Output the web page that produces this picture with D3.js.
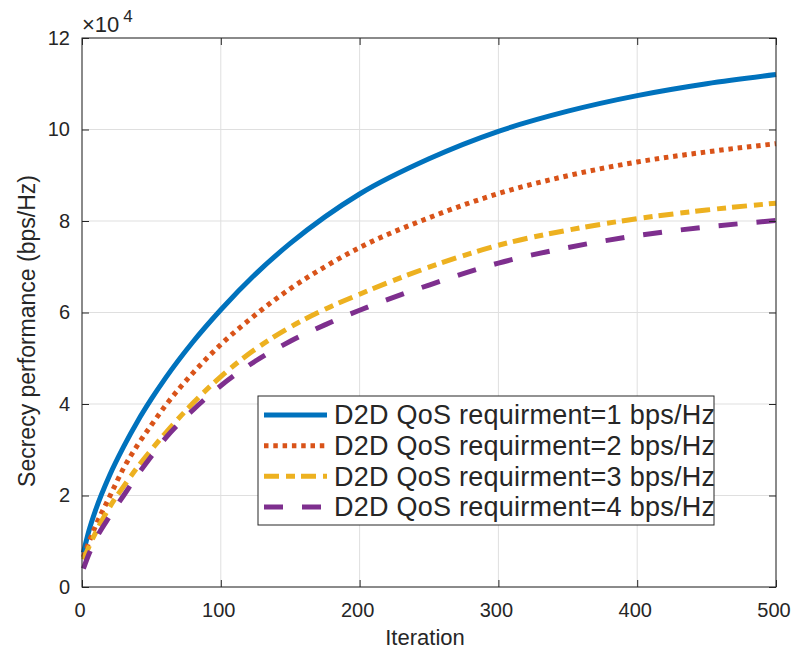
<!DOCTYPE html>
<html>
<head>
<meta charset="utf-8">
<script src="https://cdn.jsdelivr.net/npm/d3@7"></script>
<style>
  body { margin: 0; background: #fff; }
  svg text { font-family: "Liberation Sans", Arial, Helvetica, sans-serif; fill: #262626; }
</style>
</head>
<body>
<div id="chart"></div>
<script>
const iterations = [1, 5, 10, 20, 30, 40, 50, 60, 80, 100, 125, 150, 175, 200, 250, 300, 350, 400, 450, 500];

// secrecy performance, in units of 1e4
const qos1 = [0.75, 1.23, 1.7, 2.45, 3.07, 3.62, 4.11, 4.56, 5.36, 6.06, 6.84, 7.51, 8.09, 8.59, 9.36, 9.96, 10.4, 10.74, 11.0, 11.2];
const qos2 = [0.65, 0.98, 1.35, 1.98, 2.6, 3.1, 3.54, 3.96, 4.68, 5.3, 5.95, 6.52, 7.0, 7.42, 8.07, 8.6, 8.99, 9.29, 9.51, 9.69];
const qos3 = [0.6, 0.88, 1.2, 1.75, 2.2, 2.62, 3.0, 3.36, 4.02, 4.6, 5.2, 5.68, 6.07, 6.4, 6.99, 7.47, 7.8, 8.05, 8.24, 8.39];
const qos4 = [0.4, 0.72, 1.05, 1.55, 2.0, 2.45, 2.86, 3.25, 3.87, 4.4, 4.94, 5.37, 5.73, 6.05, 6.6, 7.08, 7.42, 7.68, 7.87, 8.01];

const labels = [
  "D2D QoS requirment=1 bps/Hz",
  "D2D QoS requirment=2 bps/Hz",
  "D2D QoS requirment=3 bps/Hz",
  "D2D QoS requirment=4 bps/Hz"
];
const xTicks = [0, 100, 200, 300, 400, 500];
const yTicks = [0, 2, 4, 6, 8, 10, 12];

const series = [
  { name: labels[0], values: qos1, color: "#0072bd", dash: null },
  { name: labels[1], values: qos2, color: "#d95319", dash: "4.5,4.8" },
  { name: labels[2], values: qos3, color: "#edb120", dash: "15,7,9,6" },
  { name: labels[3], values: qos4, color: "#7e2f8e", dash: "19,19" }
];

const W = 791, H = 654;
const margin = { top: 38, right: 15, bottom: 67, left: 82 };
const width = W - margin.left - margin.right,
      height = H - margin.top - margin.bottom;

const svg = d3.select("#chart").append("svg")
  .attr("width", W).attr("height", H);

const g = svg.append("g")
  .attr("transform", `translate(${margin.left},${margin.top})`);

const x = d3.scaleLinear().domain([0, 500]).range([0, width]);
const y = d3.scaleLinear().domain([0, 12]).range([height, 0]);

// grid
g.append("g").selectAll("line.gx")
  .data(xTicks).enter().append("line")
  .attr("x1", d => x(d)).attr("x2", d => x(d))
  .attr("y1", 0).attr("y2", height)
  .attr("stroke", "#dfdfdf").attr("stroke-width", 1);
g.append("g").selectAll("line.gy")
  .data(yTicks).enter().append("line")
  .attr("y1", d => y(d)).attr("y2", d => y(d))
  .attr("x1", 0).attr("x2", width)
  .attr("stroke", "#dfdfdf").attr("stroke-width", 1);

// lines
const line = d3.line()
  .x((d, i) => x(iterations[i]))
  .y(d => y(d))
  .curve(d3.curveMonotoneX);

series.forEach(s => {
  g.append("path")
    .datum(s.values)
    .attr("d", line)
    .attr("fill", "none")
    .attr("stroke", s.color)
    .attr("stroke-width", 5)
    .attr("stroke-dasharray", s.dash);
});

// axes (inward ticks, box)
const tickLen = 7;
const axisStyle = sel => {
  sel.select(".domain").remove();
  sel.selectAll(".tick line").attr("stroke", "#262626");
  sel.selectAll(".tick text").style("font-size", "20px").attr("fill", "#262626");
};

g.append("g")
  .attr("transform", `translate(0,${height})`)
  .call(d3.axisBottom(x).tickValues(xTicks).tickSizeInner(-tickLen).tickSizeOuter(0).tickPadding(16))
  .call(axisStyle)
  .selectAll(".tick text").attr("dx", -2.5);
g.append("g")
  .call(d3.axisTop(x).tickValues(xTicks).tickSizeInner(-tickLen).tickSizeOuter(0).tickFormat(""))
  .call(axisStyle);
g.append("g")
  .call(d3.axisLeft(y).tickValues(yTicks).tickSizeInner(-tickLen).tickSizeOuter(0).tickPadding(12))
  .call(axisStyle);
g.append("g")
  .attr("transform", `translate(${width},0)`)
  .call(d3.axisRight(y).tickValues(yTicks).tickSizeInner(-tickLen).tickSizeOuter(0).tickFormat(""))
  .call(axisStyle);

g.append("rect")
  .attr("x", 0).attr("y", 0).attr("width", width).attr("height", height)
  .attr("fill", "none").attr("stroke", "#262626").attr("stroke-width", 1);

// exponent label
const expo = svg.append("text")
  .attr("x", 82).attr("y", 32)
  .style("font-size", "22px");
expo.append("tspan").text("×10");
expo.append("tspan").attr("dx", 4).attr("dy", -10).style("font-size", "17px").text("4");

// axis labels
svg.append("text")
  .attr("x", 425).attr("y", 645)
  .attr("text-anchor", "middle")
  .style("font-size", "22px")
  .text("Iteration");

svg.append("text")
  .attr("transform", "translate(35,331) rotate(-90)")
  .attr("text-anchor", "middle")
  .style("font-size", "23px")
  .text("Secrecy performance (bps/Hz)");

// legend
const lg = svg.append("g").attr("transform", "translate(258,396)");
lg.append("rect")
  .attr("width", 456).attr("height", 129)
  .attr("fill", "#fff").attr("stroke", "#262626").attr("stroke-width", 1);

const rowY = d3.scalePoint().domain(labels).range([19, 111]);
const items = lg.selectAll("g.item").data(series).enter().append("g")
  .attr("transform", d => `translate(0,${rowY(d.name)})`);
items.append("line")
  .attr("x1", 6).attr("x2", 69)
  .attr("stroke", d => d.color)
  .attr("stroke-width", 5)
  .attr("stroke-dasharray", d => d.dash);
items.append("text")
  .attr("x", 76).attr("dy", "0.35em")
  .style("font-size", "27px")
  .style("letter-spacing", "0.25px")
  .text(d => d.name);
</script>
</body>
</html>
